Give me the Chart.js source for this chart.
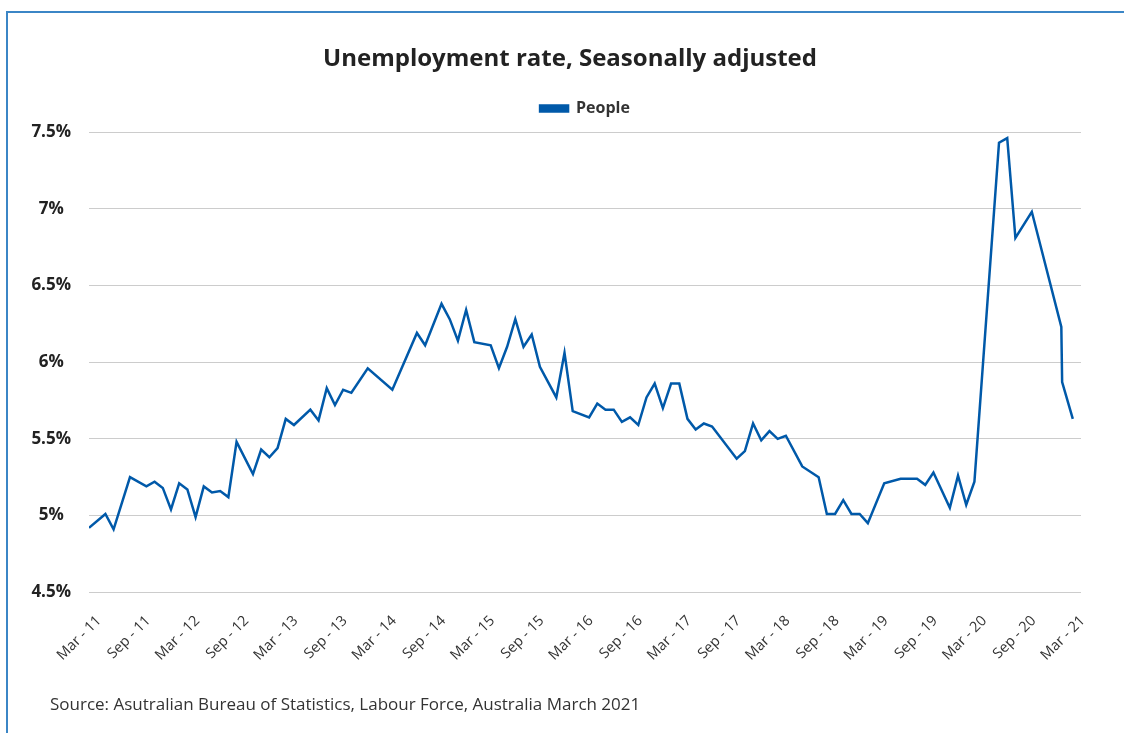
<!DOCTYPE html>
<html>
<head>
<meta charset="utf-8">
<script src="https://cdn.jsdelivr.net/npm/chart.js@4.4.1/dist/chart.umd.min.js"></script>
<style>
  html, body { margin: 0; padding: 0; background: #fff; width: 1124px; height: 733px; overflow: hidden; }
  #frame { position: absolute; left: 6px; top: 11px; width: 1200px; height: 800px;
           border-top: 2px solid #3b86c6; border-left: 2px solid #3b86c6; }
  #wrap { position: absolute; left: 0; top: 0; width: 1124px; height: 733px; }
  #source { position: absolute; left: 50px; top: 692px; font-family: 'Open Sans', sans-serif;
            font-size: 17px; color: #333; white-space: nowrap; }
</style>
</head>
<body>
<div id="frame"></div>
<div id="wrap"><canvas id="c" width="1124" height="733"></canvas></div>
<div id="source">Source: Asutralian Bureau of Statistics, Labour Force, Australia March 2021</div>
<script>
// months since Mar 2011 (0 = Mar 11, 120 = Mar 21)
const months = [
  0, 2, 3, 5, 7, 8, 9, 10, 11, 12, 13, 14, 15, 16, 17, 18, 20, 21, 22, 23,
  24, 25, 27, 28, 29, 30, 31, 32, 34, 37, 40, 41, 43, 44, 45, 46, 47, 49, 50, 51,
  52, 53, 54, 55, 57, 58, 59, 61, 62, 63, 64, 65, 66, 67, 68, 69, 70, 71, 72, 73,
  74, 75, 76, 79, 80, 81, 82, 83, 84, 85, 87, 89, 90, 91, 92, 93, 94, 95, 97, 99,
  101, 102, 103, 105, 106, 107, 108, 111, 112, 113, 115, 118.6, 118.7, 120
];
// unemployment rate, %
const rate = [
  4.92, 5.01, 4.91, 5.25, 5.19, 5.22, 5.18, 5.04, 5.21, 5.17, 4.99, 5.19, 5.15, 5.16, 5.12, 5.48, 5.27, 5.43, 5.38, 5.44,
  5.63, 5.59, 5.69, 5.62, 5.83, 5.72, 5.82, 5.80, 5.96, 5.82, 6.19, 6.11, 6.38, 6.28, 6.14, 6.34, 6.13, 6.11, 5.96, 6.10,
  6.28, 6.10, 6.18, 5.97, 5.77, 6.06, 5.68, 5.64, 5.73, 5.69, 5.69, 5.61, 5.64, 5.59, 5.77, 5.86, 5.70, 5.86, 5.86, 5.63,
  5.56, 5.60, 5.58, 5.37, 5.42, 5.60, 5.49, 5.55, 5.50, 5.52, 5.32, 5.25, 5.01, 5.01, 5.10, 5.01, 5.01, 4.95, 5.21, 5.24,
  5.24, 5.20, 5.28, 5.05, 5.26, 5.07, 5.22, 7.43, 7.46, 6.81, 6.98, 6.23, 5.87, 5.63
];
const xTickLabels = [
  'Mar - 11', 'Sep - 11', 'Mar - 12', 'Sep - 12', 'Mar - 13', 'Sep - 13', 'Mar - 14',
  'Sep - 14', 'Mar - 15', 'Sep - 15', 'Mar - 16', 'Sep - 16', 'Mar - 17', 'Sep - 17',
  'Mar - 18', 'Sep - 18', 'Mar - 19', 'Sep - 19', 'Mar - 20', 'Sep - 20', 'Mar - 21'
];
const yTickLabels = ['4.5%', '5%', '5.5%', '6%', '6.5%', '7%', '7.5%'];

const FONT = "'Open Sans', 'Liberation Sans', sans-serif";
const BLUE = '#0059a9';

new Chart(document.getElementById('c'), {
  type: 'line',
  data: {
    datasets: [{
      label: 'People',
      data: months.map((m, i) => ({ x: m, y: rate[i] })),
      borderColor: BLUE,
      backgroundColor: BLUE,
      borderWidth: 2.5,
      pointRadius: 0,
      tension: 0
    }]
  },
  options: {
    responsive: false,
    animation: false,
    layout: { padding: { left: 20, right: 4, top: 0, bottom: 57 } },
    plugins: {
      title: {
        display: true,
        text: 'Unemployment rate, Seasonally adjusted',
        color: '#222',
        font: { family: FONT, size: 24, weight: 'bold' },
        padding: { top: 45, bottom: 16.7 }
      },
      legend: {
        display: true,
        fullSize: false,
        labels: {
          boxWidth: 28, boxHeight: 6,
          color: '#333',
          font: { family: FONT, size: 16, weight: 'bold' },
          padding: 10
        }
      },
      tooltip: { enabled: false }
    },
    scales: {
      x: {
        type: 'linear',
        min: 0, max: 121,
        afterBuildTicks: axis => { axis.ticks = xTickLabels.map((_, i) => ({ value: i * 6 })); },
        grid: { display: false },
        border: { display: false },
        ticks: {
          stepSize: 6,
          autoSkip: false,
          minRotation: 45, maxRotation: 45,
          padding: 12,
          labelOffset: 10,
          color: '#333',
          font: { family: FONT, size: 14.5 },
          callback: v => xTickLabels[Math.round(v / 6)]
        }
      },
      x2: {
        type: 'linear', position: 'top',
        grid: { display: false }, border: { display: false }, ticks: { display: false },
        afterFit: axis => { axis.height = 5.5; }
      },
      y: {
        min: 4.5, max: 7.5,
        afterFit: axis => { axis.width = 69; },
        grid: { color: '#cccccc', lineWidth: 1, drawTicks: false },
        border: { display: false },
        ticks: {
          stepSize: 0.5,
          crossAlign: 'center',
          padding: 18,
          color: '#222',
          font: { family: FONT, size: 17, weight: 'bold' },
          callback: (v, i) => yTickLabels[i]
        }
      },
      y2: {
        type: 'linear', position: 'right',
        grid: { display: false }, border: { display: false }, ticks: { display: false },
        afterFit: axis => { axis.width = 39; }
      }
    }
  }
});
</script>
</body>
</html>
